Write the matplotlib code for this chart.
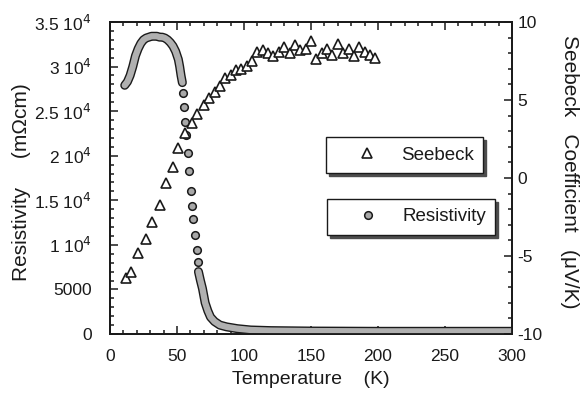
import numpy as np
import matplotlib
matplotlib.use('Agg')
import matplotlib.pyplot as plt
import matplotlib.patheffects as pe
from matplotlib.ticker import MultipleLocator

plt.rcParams['font.family'] = ['Liberation Sans', 'DejaVu Sans']
plt.rcParams['axes.unicode_minus'] = False

# Seebeck coefficient (uV/K) vs temperature (K)
seebeck_T = [12, 16, 21, 27, 31, 37, 42, 47, 51, 56, 61, 65, 70, 74, 78, 82, 86, 90,
             94, 98, 102, 106, 110, 114, 118, 122, 126, 130, 134, 138, 142, 146, 150,
             154, 158, 162, 166, 170, 174, 178, 182, 186, 190, 194, 198]
seebeck_S = [-6.4, -6.0, -4.8, -3.9, -2.8, -1.7, -0.3, 0.7, 1.9, 2.9, 3.5, 4.1, 4.7, 5.1,
             5.5, 5.9, 6.4, 6.6, 6.9, 7.0, 7.2, 7.5, 8.1, 8.2, 8.0, 7.8, 8.1, 8.4, 8.0,
             8.5, 8.2, 8.3, 8.8, 7.6, 8.0, 8.3, 7.9, 8.6, 8.0, 8.3, 7.8, 8.4, 8.1, 7.9, 7.7]

# resistivity (mOhm cm): densely measured low-T hump
rho_T_low = [11, 13, 15, 17, 19, 21, 23, 25, 27, 29, 31, 33, 35, 37, 39, 41, 43, 45,
             47, 49, 51, 52, 53, 54]
rho_low = [27900, 28300, 29000, 30000, 31200, 32000, 32600, 33000, 33200, 33300, 33400,
           33400, 33400, 33300, 33300, 33200, 33000, 32700, 32300, 31700, 30800, 30000,
           29000, 28200]
# sparse points across the drop
rho_T_mid = [54.5, 55, 56, 56.7, 58.2, 59, 60.4, 61.2, 62, 63.4, 65, 65.7]
rho_mid = [27000, 25500, 23800, 22300, 20300, 18300, 16000, 14400, 12900, 11100, 9400, 8100]
# dense high-T tail
rho_T_high = [66, 67.5, 69, 71, 73, 75, 78, 82, 87, 95, 105, 120, 150, 200, 250, 300]
rho_high = [7000, 6000, 5100, 3500, 2600, 1900, 1400, 1000, 800, 600, 450, 380, 330, 300, 300, 300]

yticks_left = [0, 5000, 10000, 15000, 20000, 25000, 30000, 35000]
yticklabels_left = ['0', '5000', '1 10$^4$', '1.5 10$^4$', '2 10$^4$', '2.5 10$^4$',
                    '3 10$^4$', '3.5 10$^4$']
xticks = [0, 50, 100, 150, 200, 250, 300]
yticks_right = [-10, -5, 0, 5, 10]

ink = '#1a1a1a'
fig = plt.figure(figsize=(5.82, 3.94), dpi=100)
fig.subplots_adjust(left=110/582, right=512/582, bottom=60/394, top=372/394)
ax = fig.add_subplot(111)
ax2 = ax.twinx()

band = dict(color='#b0b0b0', lw=4.5, solid_capstyle='round', zorder=3,
            path_effects=[pe.Stroke(linewidth=6.5, foreground=ink), pe.Normal()])
ax.plot(rho_T_low, rho_low, **band)
ax.plot(rho_T_high, rho_high, **band)
res, = ax.plot(rho_T_mid, rho_mid, 'o', ms=5.5, mfc='#a8a8a8', mec=ink, mew=1.1,
               zorder=4, label='Resistivity')

seeb, = ax2.plot(seebeck_T, seebeck_S, '^', ms=7, mfc='white', mec=ink, mew=1.2,
                 ls='none', label='Seebeck')

ax.set_xlim(0, 300)
ax.set_ylim(0, 35000)
ax2.set_ylim(-10, 10)

ax.set_xticks(xticks)
ax.set_yticks(yticks_left)
ax.set_yticklabels(yticklabels_left)
ax2.set_yticks(yticks_right)
ax.xaxis.set_minor_locator(MultipleLocator(10))
ax.yaxis.set_minor_locator(MultipleLocator(1000))
ax2.yaxis.set_minor_locator(MultipleLocator(1))

ax.tick_params(which='both', direction='in', top=True, right=False, colors=ink,
               labelsize=12.5, width=1.1)
ax.tick_params(which='major', length=6)
ax.tick_params(which='minor', length=3)
ax.tick_params(axis='y', pad=13)
ax.tick_params(axis='x', pad=11)
ax2.tick_params(which='both', direction='in', colors=ink, labelsize=12.5, width=1.1, pad=4)
ax2.tick_params(which='major', length=6)
ax2.tick_params(which='minor', length=3)
for a in (ax, ax2):
    for s in a.spines.values():
        s.set_linewidth(1.3)
        s.set_color(ink)

ax.set_xlabel('Temperature    (K)', fontsize=14, color=ink)
ax.xaxis.set_label_coords(0.5, -0.118)
fig.text(22/582, 1 - 182/394, 'Resistivity     (m\u03a9cm)', fontsize=15, color=ink,
         rotation=90, ha='center', va='center')
fig.text(569/582, 1 - 172/394, 'Seebeck   Coefficient   (\u03bcV/K)', fontsize=15,
         color=ink, rotation=270, ha='center', va='center')

leg_kw = dict(fontsize=13.5, fancybox=False, edgecolor=ink, borderpad=0.5,
              handlelength=3.4, handletextpad=0.1, shadow={'color': '0.3', 'alpha': 1},
              loc='upper left', borderaxespad=0, labelcolor=ink)
leg1 = ax2.legend(handles=[seeb], bbox_to_anchor=(0.537, 0.631), **leg_kw)
leg1.get_frame().set_linewidth(1.0)
ax2.add_artist(leg1)
leg2 = ax2.legend(handles=[res], bbox_to_anchor=(0.54, 0.433), **leg_kw)
leg2.get_frame().set_linewidth(1.0)

fig.savefig('out.png', dpi=100)
